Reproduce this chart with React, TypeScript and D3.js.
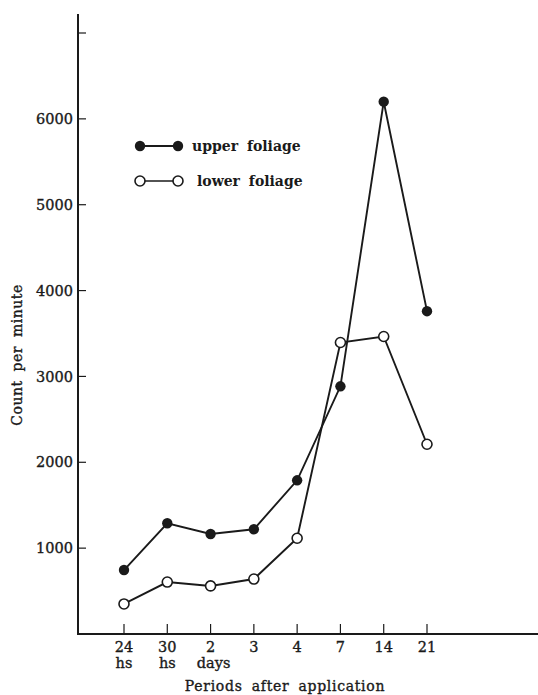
import React from "react";
import * as d3 from "d3";

const categories = ["24hs", "30hs", "2days", "3", "4", "7", "14", "21"];
const tickLine1 = ["24", "30", "2", "3", "4", "7", "14", "21"];
const tickLine2 = ["hs", "hs", "days", "", "", "", "", ""];
const upperFoliage = [745, 1290, 1165, 1220, 1790, 2885, 6200, 3760];
const lowerFoliage = [350, 605, 560, 640, 1115, 3395, 3465, 2210];
const yTicks = [1000, 2000, 3000, 4000, 5000, 6000, 7000];
const yTickLabels = ["1000", "2000", "3000", "4000", "5000", "6000", ""];

const W = 538;
const H = 695;
const FONT = "'DejaVu Serif', 'Liberation Serif', serif";
const INK = "#1a1a1a";

export default function App() {
  const x = d3.scalePoint<string>().domain(categories).range([124, 427]);
  const y = d3.scaleLinear().domain([0, 7000]).range([634, 33]);
  const axisX = 78;
  const axisY = y(0);

  const line = d3
    .line<number>()
    .x((_, i) => x(categories[i]) as number)
    .y((d) => y(d));

  const txt = { fontFamily: FONT, fill: INK, stroke: INK, strokeWidth: 0.35 };

  return (
    <svg
      width={W}
      height={H}
      style={{ position: "absolute", left: 0, top: 0, background: "#fff" }}
    >
      <rect width={W} height={H} fill="#fff" />
      {/* axes */}
      <line x1={axisX} y1={14} x2={axisX} y2={axisY + 1} stroke={INK} strokeWidth={2} />
      <line x1={axisX - 1} y1={axisY} x2={W} y2={axisY} stroke={INK} strokeWidth={2} />
      {yTicks.map((t, i) => (
        <g key={t}>
          <line x1={axisX} x2={axisX + 8} y1={y(t)} y2={y(t)} stroke={INK} strokeWidth={1.2} />
          <text x={axisX - 5} y={y(t)} dy="0.35em" textAnchor="end" fontSize={14.5} {...txt}>
            {yTickLabels[i]}
          </text>
        </g>
      ))}
      {categories.map((c, i) => (
        <g key={c}>
          <line
            x1={x(c)}
            x2={x(c)}
            y1={axisY - 10}
            y2={axisY}
            stroke={INK}
            strokeWidth={1.2}
          />
          <text x={x(c)} y={axisY + 18} textAnchor="middle" fontSize={14.5} {...txt}>
            {tickLine1[i]}
          </text>
          {tickLine2[i] && (
            <text
              x={(x(c) as number) + (tickLine2[i] === "days" ? 3 : 0)}
              y={axisY + 34}
              textAnchor="middle"
              fontSize={14.5}
              {...txt}
            >
              {tickLine2[i]}
            </text>
          )}
        </g>
      ))}
      <text
        x={285}
        y={691}
        textAnchor="middle"
        fontSize={14}
        letterSpacing={0.7}
        wordSpacing={4}
        {...txt}
      >
        Periods after application
      </text>
      <text
        transform={`translate(22,355) rotate(-90)`}
        textAnchor="middle"
        fontSize={14}
        letterSpacing={0.5}
        wordSpacing={4}
        {...txt}
      >
        Count per minute
      </text>

      {/* series */}
      <path d={line(lowerFoliage) || ""} fill="none" stroke={INK} strokeWidth={1.9} />
      <path d={line(upperFoliage) || ""} fill="none" stroke={INK} strokeWidth={1.9} />
      {upperFoliage.map((v, i) => (
        <circle key={"u" + i} cx={x(categories[i])} cy={y(v)} r={5.2} fill={INK} />
      ))}
      {lowerFoliage.map((v, i) => (
        <circle
          key={"l" + i}
          cx={x(categories[i])}
          cy={y(v)}
          r={5}
          fill="#fff"
          stroke={INK}
          strokeWidth={1.6}
        />
      ))}

      {/* legend */}
      <line x1={140} x2={178} y1={146} y2={146} stroke={INK} strokeWidth={2} />
      <circle cx={140} cy={146} r={5.2} fill={INK} />
      <circle cx={178} cy={146} r={5.2} fill={INK} />
      <text
        x={192}
        y={151}
        fontSize={14}
        fontWeight="bold"
        letterSpacing={0}
        wordSpacing={4}
        fontFamily={FONT}
        fill={INK}
      >
        upper foliage
      </text>
      <line x1={140} x2={178} y1={181} y2={181} stroke={INK} strokeWidth={1.6} />
      <circle cx={140} cy={181} r={5} fill="#fff" stroke={INK} strokeWidth={1.6} />
      <circle cx={178} cy={181} r={5} fill="#fff" stroke={INK} strokeWidth={1.6} />
      <text
        x={197}
        y={186}
        fontSize={14}
        fontWeight="bold"
        letterSpacing={0}
        wordSpacing={4}
        fontFamily={FONT}
        fill={INK}
      >
        lower foliage
      </text>
    </svg>
  );
}
